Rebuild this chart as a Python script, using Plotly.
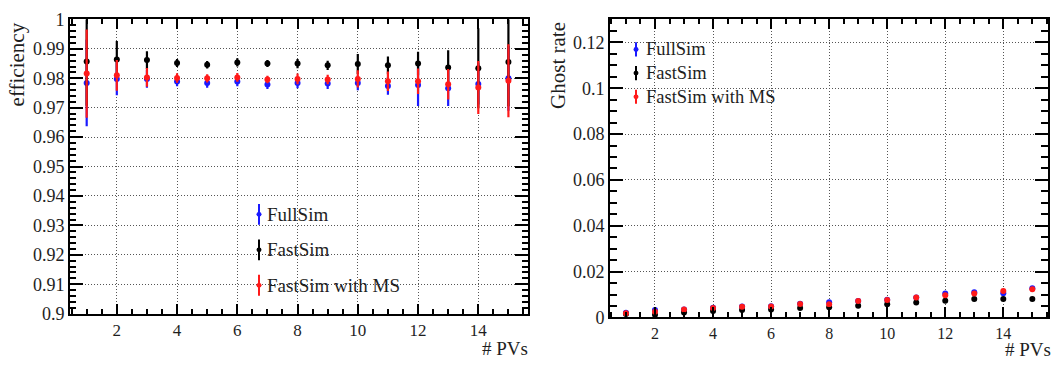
import plotly.graph_objects as go

W, H = 1054, 370

# ---------------- data ----------------
n_pv = list(range(1, 16))

eff_full = [0.9784, 0.9798, 0.9798, 0.9789, 0.9784, 0.9789, 0.9779, 0.9784, 0.9782, 0.9784, 0.9774, 0.9777, 0.9766, 0.9781, 0.9800]
eff_full_err = [0.0147, 0.0056, 0.0030, 0.0016, 0.0016, 0.0016, 0.0015, 0.0018, 0.0018, 0.0025, 0.0030, 0.0071, 0.0060, 0.0070, 0.0110]
eff_fast = [0.9857, 0.9864, 0.9862, 0.9852, 0.9846, 0.9854, 0.9850, 0.9850, 0.9844, 0.9849, 0.9844, 0.9850, 0.9837, 0.9834, 0.9855]
eff_fast_err = [0.0150, 0.0063, 0.0030, 0.0014, 0.0013, 0.0014, 0.0012, 0.0016, 0.0016, 0.0034, 0.0030, 0.0040, 0.0058, 0.0136, 0.0150]
eff_ms = [0.9816, 0.9810, 0.9803, 0.9801, 0.9800, 0.9803, 0.9796, 0.9798, 0.9796, 0.9798, 0.9790, 0.9790, 0.9780, 0.9769, 0.9792]
eff_ms_err = [0.0150, 0.0052, 0.0032, 0.0016, 0.0014, 0.0015, 0.0013, 0.0018, 0.0016, 0.0029, 0.0033, 0.0043, 0.0052, 0.0090, 0.0124]

ghost_full = [0.0020, 0.0032, 0.0035, 0.0042, 0.0048, 0.0049, 0.0060, 0.0066, 0.0072, 0.0077, 0.0087, 0.0104, 0.0110, 0.0106, 0.0127]
ghost_full_err = [0.0004, 0.0004, 0.0004, 0.0004, 0.0004, 0.0004, 0.0004, 0.0004, 0.0004, 0.0004, 0.0005, 0.0005, 0.0005, 0.0006, 0.0006]
ghost_fast = [0.0015, 0.0012, 0.0021, 0.0028, 0.0032, 0.0035, 0.0041, 0.0044, 0.0051, 0.0058, 0.0065, 0.0073, 0.0080, 0.0080, 0.0080]
ghost_fast_err = [0.0003, 0.0003, 0.0003, 0.0003, 0.0003, 0.0004, 0.0004, 0.0004, 0.0004, 0.0004, 0.0004, 0.0004, 0.0005, 0.0005, 0.0005]
ghost_ms = [0.0018, 0.0025, 0.0035, 0.0041, 0.0047, 0.0048, 0.0059, 0.0058, 0.0072, 0.0076, 0.0087, 0.0097, 0.0104, 0.0115, 0.0123]
ghost_ms_err = [0.0004, 0.0004, 0.0004, 0.0004, 0.0004, 0.0004, 0.0004, 0.0004, 0.0004, 0.0004, 0.0005, 0.0005, 0.0005, 0.0006, 0.0006]

series_names = ["FullSim", "FastSim", "FastSim with MS"]
series_colors = ["#1a1aff", "#000000", "#ff1a1a"]

eff_ticks = [0.9, 0.91, 0.92, 0.93, 0.94, 0.95, 0.96, 0.97, 0.98, 0.99, 1.0]
eff_ticktext = ["0.9", "0.91", "0.92", "0.93", "0.94", "0.95", "0.96", "0.97", "0.98", "0.99", "1"]
ghost_ticks = [0, 0.02, 0.04, 0.06, 0.08, 0.10, 0.12]
ghost_ticktext = ["0", "0.02", "0.04", "0.06", "0.08", "0.1", "0.12"]
x_ticks = [2, 4, 6, 8, 10, 12, 14]

FONT = "Liberation Serif"
TXT = "#1e1e1e"

# ---------------- helpers ----------------
def px(x):
    return x / W

def py(y):
    return 1 - y / H

fig = go.Figure()

eff_sets = [(eff_full, eff_full_err), (eff_fast, eff_fast_err), (eff_ms, eff_ms_err)]
ghost_sets = [(ghost_full, ghost_full_err), (ghost_fast, ghost_fast_err), (ghost_ms, ghost_ms_err)]

for (vals, errs), name, col in zip(eff_sets, series_names, series_colors):
    fig.add_trace(go.Scatter(
        x=n_pv, y=vals, mode="markers", name=name, showlegend=False,
        marker=dict(color=col, size=6),
        error_y=dict(type="data", array=errs, color=col, thickness=2.2, width=0),
        xaxis="x", yaxis="y", cliponaxis=True))

for (vals, errs), name, col in zip(ghost_sets, series_names, series_colors):
    fig.add_trace(go.Scatter(
        x=n_pv, y=vals, mode="markers", name=name, showlegend=False,
        marker=dict(color=col, size=6),
        error_y=dict(type="data", array=errs, color=col, thickness=2, width=0),
        xaxis="x2", yaxis="y2", cliponaxis=True))

grid = dict(showgrid=True, gridcolor="#555555", griddash="1px,2px", gridwidth=1)
frame = dict(showline=True, linecolor="black", linewidth=2, mirror="allticks",
             ticks="inside", tickcolor="black", tickwidth=2, zeroline=False)

def xaxis(domain, rng, anchor, fs):
    return dict(domain=domain, range=rng, anchor=anchor, tickmode="array",
                tickvals=x_ticks, ticktext=[str(t) for t in x_ticks], ticklen=10,
                tickfont=dict(family=FONT, size=fs, color=TXT),
                minor=dict(ticks="inside", tickmode="linear", tick0=0.5, dtick=0.5,
                           ticklen=5, tickwidth=1.5, tickcolor="black", showgrid=False),
                **grid, **frame)

fig.update_layout(
    width=W, height=H, margin=dict(l=0, r=0, t=0, b=0),
    paper_bgcolor="white", plot_bgcolor="white",
    font=dict(family=FONT, color=TXT),
    xaxis=xaxis([px(70), px(528)], [0.446, 15.65], "y", 17),
    xaxis2=xaxis([px(610), px(1048)], [0.45, 15.54], "y2", 16),
    yaxis=dict(domain=[py(321), py(10)], range=[0.9, 1.0], anchor="x",
               tickmode="array", tickvals=eff_ticks, ticktext=eff_ticktext, ticklen=13,
               tickfont=dict(family=FONT, size=18, color=TXT),
               minor=dict(ticks="inside", tickmode="linear", tick0=0.9, dtick=0.002,
                          ticklen=6, tickwidth=1.5, tickcolor="black", showgrid=False),
               **grid, **frame),
    yaxis2=dict(domain=[py(325), py(10)], range=[0, 0.13], anchor="x2",
                tickmode="array", tickvals=ghost_ticks, ticktext=ghost_ticktext, ticklen=13,
                tickfont=dict(family=FONT, size=18, color=TXT),
                minor=dict(ticks="inside", tickmode="linear", tick0=0, dtick=0.005,
                           ticklen=7, tickwidth=1.5, tickcolor="black", showgrid=False),
                **grid, **frame),
)

ann = []
# axis titles
ann.append(dict(text="efficiency", x=px(17), y=py(11), xref="paper", yref="paper",
                xanchor="center", yanchor="top", textangle=-90, showarrow=False,
                font=dict(family=FONT, size=21, color=TXT)))
ann.append(dict(text="Ghost rate", x=px(558), y=py(11), xref="paper", yref="paper",
                xanchor="center", yanchor="top", textangle=-90, showarrow=False,
                font=dict(family=FONT, size=21, color=TXT)))
ann.append(dict(text="# PVs", x=px(529), y=py(370), xref="paper", yref="paper",
                xanchor="right", yanchor="bottom", showarrow=False, borderpad=0,
                font=dict(family=FONT, size=19, color=TXT)))
ann.append(dict(text="# PVs", x=px(1052), y=py(371), xref="paper", yref="paper",
                xanchor="right", yanchor="bottom", showarrow=False, borderpad=0,
                font=dict(family=FONT, size=19, color=TXT)))

shapes = []
# legends (manual, ROOT style)
def legend(x_glyph, x_text, ys, half, fs):
    for name, col, yc in zip(series_names, series_colors, ys):
        shapes.append(dict(type="line", xref="paper", yref="paper",
                           x0=px(x_glyph), x1=px(x_glyph), y0=py(yc - half), y1=py(yc + half),
                           line=dict(color=col, width=2)))
        shapes.append(dict(type="circle", xref="paper", yref="paper",
                           x0=px(x_glyph - 2.5), x1=px(x_glyph + 2.5),
                           y0=py(yc + 2.5), y1=py(yc - 2.5),
                           fillcolor=col, line=dict(color=col, width=0)))
        ann.append(dict(text=name, x=px(x_text), y=py(yc), xref="paper", yref="paper",
                        xanchor="left", yanchor="middle", showarrow=False,
                        font=dict(family=FONT, size=fs, color=TXT)))

legend(259, 265, [216, 253.5, 291], 11, 19)
legend(636, 644, [41.7, 66.7, 91.7], 7.5, 18.5)

fig.update_layout(annotations=ann, shapes=shapes)

fig.write_html("out.html")
